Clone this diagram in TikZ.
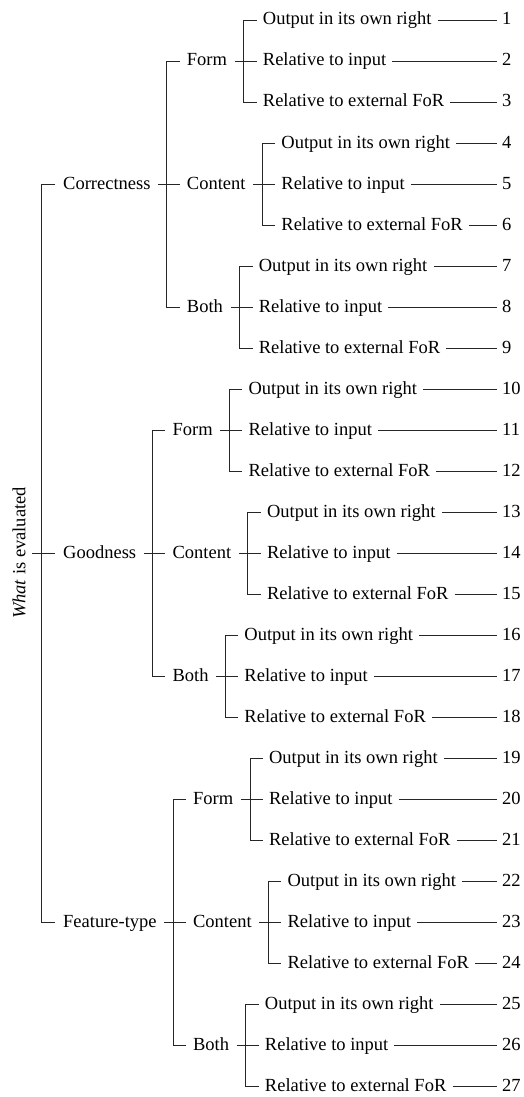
\documentclass[tikz,border=0pt]{standalone}
\usepackage{fontspec}
\setmainfont{Liberation Serif}
\usetikzlibrary{calc}
\begin{document}
\begin{tikzpicture}[x=1pt,y=1pt,
  lbl/.style={anchor=west,inner sep=0pt,text height=13pt,text depth=3pt,font=\fontsize{18.5}{22}\selectfont},
  ln/.style={line width=0.75pt,black!85}]
\useasboundingbox (0,0) rectangle (524,-1097);
\coordinate (numx) at (502,0);
\node[lbl,rotate=90,anchor=south] (root) at (28.5,-553) {\textit{What} is evaluated};
\node[lbl] (c) at (63,-184) {Correctness};
\node[lbl] (g) at (63,-553) {Goodness};
\node[lbl] (f) at (63,-922) {Feature-type};
\draw[ln] ([xshift=3.5pt]root.south) -- ([xshift=-8pt]g.west);
\draw[ln] ([xshift=-8pt]c.west) -- ++(-14,0) |- ([xshift=-8pt]f.west);
\foreach \p [count=\i from 0] in {c,g,f}{
  \node[lbl] (\p1) at ($(\p.east)+(36,123)$) {Form};
  \node[lbl] (\p2) at ($(\p.east)+(36,0)$) {Content};
  \node[lbl] (\p3) at ($(\p.east)+(36,-123)$) {Both};
  \draw[ln] ([xshift=7.5pt]\p.east) -- ([xshift=-7pt]\p2.west);
  \draw[ln] ([xshift=-7pt]\p1.west) -- ++(-13,0) |- ([xshift=-7pt]\p3.west);
  \foreach \q in {1,2,3}{
    \node[lbl] (\p\q a) at ($(\p\q.east)+(35.5,41)$) {Output in its own right};
    \node[lbl] (\p\q b) at ($(\p\q.east)+(35.5,0)$) {Relative to input};
    \node[lbl] (\p\q c) at ($(\p\q.east)+(35.5,-41)$) {Relative to external FoR};
    \draw[ln] ([xshift=7.5pt]\p\q.east) -- ([xshift=-6pt]\p\q b.west);
    \draw[ln] ([xshift=-6pt]\p\q a.west) -- ++(-13,0) |- ([xshift=-6pt]\p\q c.west);
    \foreach \j/\s in {1/a,2/b,3/c}{
      \pgfmathtruncatemacro{\k}{9*\i+3*(\q-1)+\j}
      \node[lbl] (n\k) at (\p\q\s.west -| numx) {\k};
      \draw[ln] ([xshift=6pt]\p\q\s.east) -- ([xshift=-5pt]n\k.west);
    }
  }
}
\end{tikzpicture}
\end{document}
